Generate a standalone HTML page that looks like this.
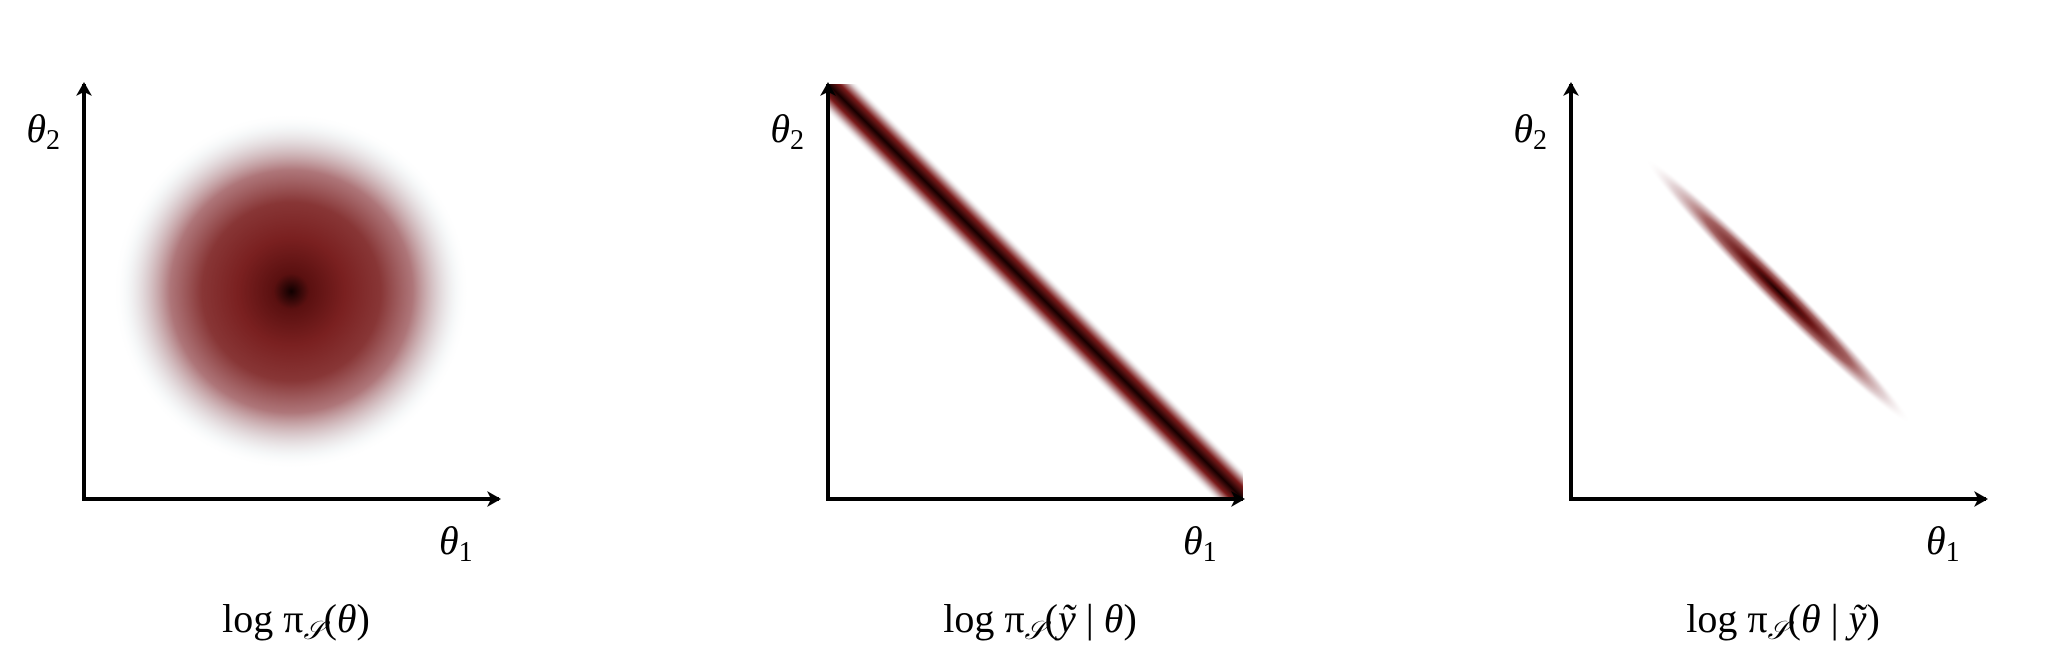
<!DOCTYPE html>
<html><head><meta charset="utf-8"><style>
html,body{margin:0;padding:0;background:#fff;}
svg text{font-family:"Liberation Serif",serif;fill:#000;}
</style></head><body>
<svg id="fig" width="2070" height="656" viewBox="0 0 2070 656" xmlns="http://www.w3.org/2000/svg">
<defs>
 <radialGradient id="gPrior">
  <stop offset="0" stop-color="#100000"/>
  <stop offset="0.1" stop-color="#5a1010"/>
  <stop offset="0.3" stop-color="#7a2020"/>
  <stop offset="0.5" stop-color="#883636"/>
  <stop offset="0.68" stop-color="#a05e62" stop-opacity="0.85"/>
  <stop offset="0.82" stop-color="#c8b4b8" stop-opacity="0.6"/>
  <stop offset="0.92" stop-color="#e4eaec" stop-opacity="0.35"/>
  <stop offset="1" stop-color="#ffffff" stop-opacity="0"/>
 </radialGradient>
 <linearGradient id="gBand" x1="0" y1="0" x2="0" y2="1">
  <stop offset="0" stop-color="#e8eef0" stop-opacity="0"/>
  <stop offset="0.15" stop-color="#c9a8aa"/>
  <stop offset="0.3" stop-color="#7a1a1a"/>
  <stop offset="0.5" stop-color="#150000"/>
  <stop offset="0.7" stop-color="#7a1a1a"/>
  <stop offset="0.85" stop-color="#c9a8aa"/>
  <stop offset="1" stop-color="#e8eef0" stop-opacity="0"/>
 </linearGradient>
 <radialGradient id="gPost">
  <stop offset="0" stop-color="#200000"/>
  <stop offset="0.25" stop-color="#6a1515"/>
  <stop offset="0.55" stop-color="#954848" stop-opacity="0.85"/>
  <stop offset="0.8" stop-color="#c8a8ac" stop-opacity="0.5"/>
  <stop offset="1" stop-color="#ffffff" stop-opacity="0"/>
 </radialGradient>
 <clipPath id="clip2"><rect x="828" y="84" width="415" height="415"/></clipPath>
 <marker id="arr" viewBox="0 0 20 20" refX="14" refY="10" markerWidth="20" markerHeight="20" markerUnits="userSpaceOnUse" orient="auto">
  <path d="M2,2 L16,10 L2,18 L6,10 Z" fill="#000"/>
 </marker>
</defs>
<g id="marks"></g>
<g id="axes"></g>
</svg>
<script>
// panel layout data
const panelNames = ["prior", "likelihood", "posterior"];
const originX = [84, 828, 1571];
const captionArgs = ["θ", "ỹ | θ", "θ | ỹ"];
const captionItalic = [["θ"], ["ỹ", "θ"], ["θ", "ỹ"]];
// distribution parameters in unit axis coordinates (0..1)
const priorMean = [0.5, 0.5];
const priorRadius = [0.43, 0.43];
const likeLine = [[0, 1], [1, 0]];
const likeWidth = [0.1];
const postMean = [0.5, 0.5];
const postHalfLen = [0.45];
const postHalfWid = [0.035];

const NS = "http://www.w3.org/2000/svg";
const AX = 415, OY = 499;
function sx(p, v){ return originX[p] + v*AX; }
function sy(v){ return OY - v*AX; }
const marks = document.getElementById('marks');
const axes = document.getElementById('axes');
function mk(tag, attrs, parent){ const e=document.createElementNS(NS,tag); for(const k in attrs) e.setAttribute(k,attrs[k]); parent.appendChild(e); return e; }

// prior
const c = mk('ellipse',{cx:sx(0,priorMean[0]),cy:sy(priorMean[1]),rx:priorRadius[0]*AX,ry:priorRadius[1]*AX,fill:'url(#gPrior)'},marks);



// likelihood band
const x1=sx(1,likeLine[0][0]), y1=sy(likeLine[0][1]), x2=sx(1,likeLine[1][0]), y2=sy(likeLine[1][1]);
const len=Math.hypot(x2-x1,y2-y1)+60, ang=Math.atan2(y2-y1,x2-x1)*180/Math.PI, w=likeWidth[0]*AX;
const g2 = mk('g',{'clip-path':'url(#clip2)'},marks);
const band = mk('rect',{x:-len/2,y:-w/2,width:len,height:w,fill:'url(#gBand)',transform:`translate(${(x1+x2)/2},${(y1+y2)/2}) rotate(${ang})`},g2);



// posterior
const pe = mk('ellipse',{cx:0,cy:0,rx:postHalfLen[0]*AX,ry:postHalfWid[0]*AX,fill:'url(#gPost)',transform:`translate(${sx(2,postMean[0])},${sy(postMean[1])}) rotate(${ang})`},marks);



function capHTML(arg){
  const parts = arg.split(' | ').map(s=>`<tspan font-style="italic">${s}</tspan>`);
  return 'log π<tspan font-style="italic" font-size="26" dy="7">𝒮</tspan><tspan dy="-7">(</tspan>' + parts.join(' | ') + ')';
}

// axes & labels
for(let p=0;p<3;p++){
  const x0=originX[p];
  const ya = mk('line',{x1:x0,y1:OY+2,x2:x0,y2:OY-AX,stroke:'#000','stroke-width':4,'marker-end':'url(#arr)'},axes);
  
  
  const xa = mk('line',{x1:x0-2,y1:OY,x2:x0+AX,y2:OY,stroke:'#000','stroke-width':4,'marker-end':'url(#arr)'},axes);
  
  
  const t2 = mk('text',{x:x0-24,y:142,'font-size':40,'font-style':'italic','text-anchor':'end'},axes);
  t2.innerHTML='θ<tspan font-style="normal" font-size="28" dy="7">2</tspan>';
  
  
  const t1 = mk('text',{x:x0+AX-60,y:554,'font-size':40,'font-style':'italic'},axes);
  t1.innerHTML='θ<tspan font-style="normal" font-size="28" dy="7">1</tspan>';
  
  
  const cap = mk('text',{x:x0+212,y:632,'font-size':40,'text-anchor':'middle'},axes);
  cap.innerHTML = capHTML(captionArgs[p]);
  
  
}
</script>
</body></html>
